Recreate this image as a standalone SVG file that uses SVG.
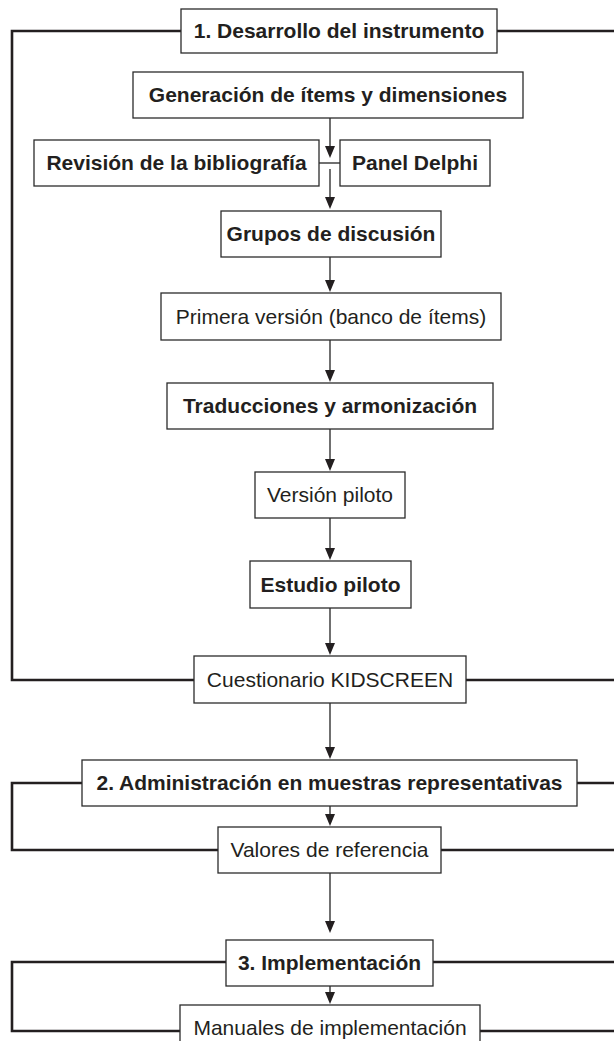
<svg xmlns="http://www.w3.org/2000/svg" width="614" height="1041" viewBox="0 0 614 1041">
<style>
.box{fill:#fff;stroke:#2b2b2b;stroke-width:1.3}
.t{font-family:"Liberation Sans",Arial,sans-serif;font-size:21px;fill:#231f20;text-anchor:middle}
.b{font-weight:bold}
.br{fill:none;stroke:#231f20;stroke-width:2.6}
.ar{fill:none;stroke:#333;stroke-width:1.4}
</style>
<defs>
<marker id="ah" markerUnits="userSpaceOnUse" markerWidth="10" markerHeight="13" refX="5" refY="12" orient="auto-start-reverse" viewBox="0 0 10 13">
<path d="M0,0 L10,0 L5,12 Z" fill="#231f20" transform="rotate(0)"/>
</marker>
</defs>
<rect width="614" height="1041" fill="#fff"/>
<g id="brackets">
<path class="br" d="M181,31 H12 V680 H194"/>
<path class="br" d="M497,31 H616"/>
<path class="br" d="M466,680 H616"/>
<path class="br" d="M82,783 H12 V850 H218"/>
<path class="br" d="M577,783 H616"/>
<path class="br" d="M441,850 H616"/>
<path class="br" d="M226,962 H12 V1031 H180"/>
<path class="br" d="M433,962 H616"/>
<path class="br" d="M480,1031 H616"/>
</g>
<g id="connectors">
<line class="ar" x1="330" y1="118" x2="330" y2="147"/>
<path d="M325,146 L335,146 L330,158 Z" fill="#231f20"/>
<line class="ar" x1="319" y1="163" x2="340" y2="163"/>
<line class="ar" x1="330" y1="169" x2="330" y2="198"/>
<path d="M325,197 L335,197 L330,209 Z" fill="#231f20"/>
<line class="ar" x1="330" y1="257" x2="330" y2="281"/>
<path d="M325,280 L335,280 L330,292 Z" fill="#231f20"/>
<line class="ar" x1="330" y1="340" x2="330" y2="371"/>
<path d="M325,370 L335,370 L330,382 Z" fill="#231f20"/>
<line class="ar" x1="330" y1="429" x2="330" y2="460"/>
<path d="M325,459 L335,459 L330,471 Z" fill="#231f20"/>
<line class="ar" x1="330" y1="518" x2="330" y2="549"/>
<path d="M325,548 L335,548 L330,560 Z" fill="#231f20"/>
<line class="ar" x1="330" y1="608" x2="330" y2="644"/>
<path d="M325,643 L335,643 L330,655 Z" fill="#231f20"/>
<line class="ar" x1="330" y1="703" x2="330" y2="748"/>
<path d="M325,747 L335,747 L330,759 Z" fill="#231f20"/>
<line class="ar" x1="330" y1="806" x2="330" y2="815"/>
<path d="M325,814 L335,814 L330,826 Z" fill="#231f20"/>
<line class="ar" x1="330" y1="873" x2="330" y2="922"/>
<path d="M325,921 L335,921 L330,933 Z" fill="#231f20"/>
<line class="ar" x1="330" y1="986" x2="330" y2="993"/>
<path d="M325,992 L335,992 L330,1004 Z" fill="#231f20"/>
</g>
<g id="n1"><rect class="box" x="181" y="9" width="316" height="44"/><text class="t b" x="339" y="38">1. Desarrollo del instrumento</text></g>
<g id="n2"><rect class="box" x="133" y="72" width="390" height="46"/><text class="t b" x="328" y="102">Generación de ítems y dimensiones</text></g>
<g id="n3"><rect class="box" x="34" y="140" width="285" height="46"/><text class="t b" x="176.5" y="170">Revisión de la bibliografía</text></g>
<g id="n4"><rect class="box" x="340" y="140" width="150" height="46"/><text class="t b" x="415" y="170">Panel Delphi</text></g>
<g id="n5"><rect class="box" x="221" y="211" width="220" height="46"/><text class="t b" x="331" y="241">Grupos de discusión</text></g>
<g id="n6"><rect class="box" x="161" y="293" width="340" height="47"/><text class="t" x="331" y="324">Primera versión (banco de ítems)</text></g>
<g id="n7"><rect class="box" x="167" y="383" width="326" height="46"/><text class="t b" x="330" y="413">Traducciones y armonización</text></g>
<g id="n8"><rect class="box" x="255" y="472" width="150" height="46"/><text class="t" x="330" y="502">Versión piloto</text></g>
<g id="n9"><rect class="box" x="250" y="561" width="161" height="47"/><text class="t b" x="330.5" y="592">Estudio piloto</text></g>
<g id="n10"><rect class="box" x="194" y="656" width="272" height="47"/><text class="t" x="330" y="687">Cuestionario KIDSCREEN</text></g>
<g id="n11"><rect class="box" x="82" y="760" width="495" height="46"/><text class="t b" x="329.5" y="790">2. Administración en muestras representativas</text></g>
<g id="n12"><rect class="box" x="218" y="827" width="223" height="46"/><text class="t" x="329.5" y="857">Valores de referencia</text></g>
<g id="n13"><rect class="box" x="226" y="940" width="207" height="46"/><text class="t b" x="329.5" y="970">3. Implementación</text></g>
<g id="n14"><rect class="box" x="180" y="1005" width="300" height="50"/><text class="t" x="330" y="1035">Manuales de implementación</text></g>
</svg>
